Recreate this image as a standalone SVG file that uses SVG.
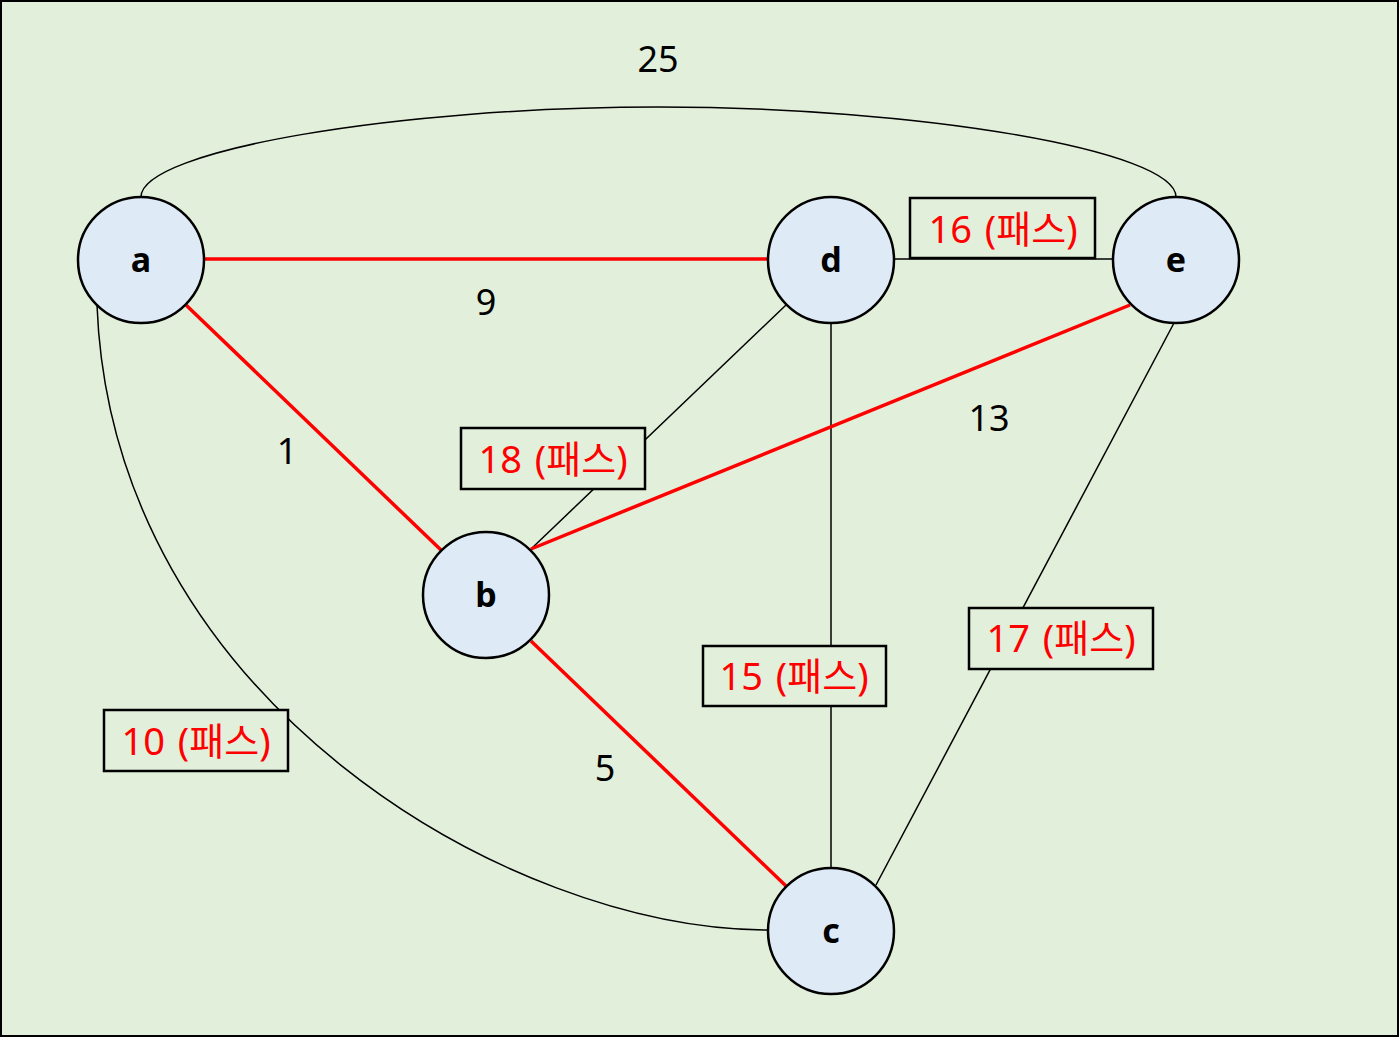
<svg xmlns="http://www.w3.org/2000/svg" width="1399" height="1037" viewBox="0 0 1399 1037">
<style>
.node{fill:#DEEAF6;stroke:#000;stroke-width:2.5}
.nl{font-family:"Noto Sans","DejaVu Sans",sans-serif;font-weight:bold;font-size:34px;text-anchor:middle;fill:#000}
.e{fill:none;stroke:#000;stroke-width:1.5}
.r{fill:none;stroke:#FF0000;stroke-width:3.5}
.box{fill:#E2EFDA;stroke:#000;stroke-width:2.5}
.bt{font-family:"Noto Sans","Noto Sans CJK KR",sans-serif;font-size:38px;text-anchor:middle;fill:#FF0000;word-spacing:3px}
.w{font-family:"Noto Sans","Noto Sans CJK KR",sans-serif;font-size:36px;text-anchor:middle;fill:#000}
</style>
<rect x="1" y="1" width="1397" height="1035" fill="#E2EFDA" stroke="#000" stroke-width="2"/>
<g id="connectors">
<path class="e" d="M141,197 C141,150 400,107 658,107 C916,107 1176,150 1176,197"/>
<path class="e" d="M97,305 C112,700 510,930 768,930"/>
<line class="e" x1="894" y1="259" x2="1113" y2="259"/>
<line class="e" x1="786" y1="305" x2="531" y2="549"/>
<line class="e" x1="831" y1="323" x2="831" y2="868"/>
<line class="e" x1="1174" y1="323" x2="876" y2="885"/>
<line class="r" x1="204" y1="259" x2="768" y2="259"/>
<line class="r" x1="186" y1="305" x2="441" y2="550"/>
<line class="r" x1="531" y1="641" x2="786" y2="886"/>
<line class="r" x1="531" y1="549" x2="1130" y2="305"/>
</g>
<g id="labels">
<text class="w" x="658" y="72">25</text>
<text class="w" x="486" y="315">9</text>
<text class="w" x="287" y="464">1</text>
<text class="w" x="989" y="431">13</text>
<text class="w" x="605" y="781">5</text>
</g>
<g id="box16"><rect class="box" x="910" y="198" width="185" height="60"/><text class="bt" x="1003" y="243">16 (패스)</text></g>
<g id="box18"><rect class="box" x="461" y="428" width="184" height="61"/><text class="bt" x="553" y="473">18 (패스)</text></g>
<g id="box15"><rect class="box" x="703" y="646" width="183" height="60"/><text class="bt" x="794" y="690">15 (패스)</text></g>
<g id="box17"><rect class="box" x="969" y="608" width="184" height="61"/><text class="bt" x="1061" y="652">17 (패스)</text></g>
<g id="box10"><rect class="box" x="104" y="710" width="184" height="61"/><text class="bt" x="196" y="755">10 (패스)</text></g>
<g id="node-a"><circle class="node" cx="141" cy="260" r="63"/><text class="nl" x="141" y="272">a</text></g>
<g id="node-d"><circle class="node" cx="831" cy="260" r="63"/><text class="nl" x="831" y="272">d</text></g>
<g id="node-e"><circle class="node" cx="1176" cy="260" r="63"/><text class="nl" x="1176" y="272">e</text></g>
<g id="node-b"><circle class="node" cx="486" cy="595" r="63"/><text class="nl" x="486" y="607">b</text></g>
<g id="node-c"><circle class="node" cx="831" cy="931" r="63"/><text class="nl" x="831" y="943">c</text></g>
</svg>
